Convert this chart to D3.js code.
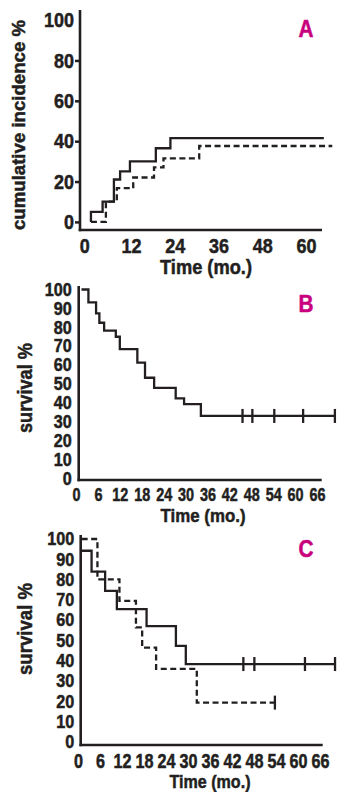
<!DOCTYPE html>
<html>
<head>
<meta charset="utf-8">
<script src="https://cdn.jsdelivr.net/npm/d3@7"></script>
<style>
  html, body { margin: 0; padding: 0; background: #fff; }
  svg { display: block; }
  text { font-family: "Liberation Sans", Arial, "DejaVu Sans", sans-serif; font-weight: bold; fill: #231f20; stroke: #231f20; stroke-width: 0.5px; }
</style>
</head>
<body>
<svg id="chart" width="337" height="792"></svg>
<script>
// ---------- Data ----------
// Panel A: cumulative incidence (%)
const aSolidTimes  = [1, 1, 4.2, 7.3, 9.0, 11.7, 18.8, 22.8, 64.9];
const aSolidValues = [0, 5, 10, 21, 25, 30, 36.5, 41.5, 41.5];
const aDashTimes   = [1, 5.1, 8.1, 12.6, 18.3, 20.9, 30.7, 67.2];
const aDashValues  = [0, 10, 16.7, 22, 27, 31.5, 37.6, 37.6];
const aXTicks = [0, 12, 24, 36, 48, 60];
const aYTicks = [0, 20, 40, 60, 80, 100];

// Panel B: survival (%)
const bTimes  = [1.5, 3.4, 5.5, 6.4, 7.7, 10.9, 12.0, 16.8, 18.9, 21.4, 27.3, 29.6, 34.2, 70.9];
const bValues = [100, 93.2, 87.4, 82.4, 78.2, 75.0, 68.4, 61.3, 53.3, 48.0, 42.4, 39.4, 33.1, 33.1];
const bCensorTimes = [45.6, 48.3, 54.3, 62.2, 70.9];
const bCensorValue = 33.1;

// Panel C: survival (%)
const cSolidTimes  = [1, 3.7, 7.4, 10.6, 18.7, 26.7, 29.4, 70.1];
const cSolidValues = [94.2, 83.9, 74.4, 65.5, 57.1, 47.4, 38.4, 38.4];
const cSolidCensorTimes = [45.1, 48.1, 61.9, 70.1];
const cSolidCensorValue = 38.4;
const cDashTimes   = [1, 5.3, 11.3, 15.8, 17.5, 21.3, 32.4, 53.7];
const cDashValues  = [100, 80.1, 69.5, 56.5, 46.5, 36.0, 19.4, 19.4];
const cDashCensorTimes = [53.7];
const cDashCensorValue = 19.4;

const survXTicks = [0, 6, 12, 18, 24, 30, 36, 42, 48, 54, 60, 66];
const survYTicks = [0, 10, 20, 30, 40, 50, 60, 70, 80, 90, 100];

const ink = "#231f20";
const magenta = "#c8007e";

const svg = d3.select("#chart");

function zip(ts, vs) { return ts.map((t, i) => ({ t, v: vs[i] })); }

function squeeze(sel, perChar) {
  sel.each(function(d) {
    const s = String(d);
    d3.select(this).attr("textLength", s.length * perChar).attr("lengthAdjust", "spacingAndGlyphs");
  });
}

function drawPanel(o) {
  const g = svg.append("g");
  const x = d3.scaleLinear().domain(o.xDomain).range(o.xRange);
  const y = d3.scaleLinear().domain([0, 100]).range(o.yRange);

  // y axis
  const ya = g.append("g").attr("transform", `translate(${o.axisX},0)`)
    .call(d3.axisLeft(y).tickValues(o.yTicks).tickSize(o.yTickSize).tickPadding(o.yPad).tickSizeOuter(0));
  ya.select(".domain").remove();
  ya.attr("font-family", null);
  ya.selectAll(".tick line").attr("stroke", ink).attr("stroke-width", 2.5);
  if (o.noTop) ya.selectAll(".tick").filter(d => d === 100).select("line").remove();
  const yt = ya.selectAll(".tick text").attr("font-size", o.yFont).attr("fill", ink);
  squeeze(yt, o.yDigit);

  // x axis
  const xa = g.append("g").attr("transform", `translate(0,${o.axisY})`)
    .call(d3.axisBottom(x).tickValues(o.xTicks).tickSize(0).tickPadding(o.xPad).tickSizeOuter(0));
  xa.select(".domain").remove();
  xa.attr("font-family", null);
  const xt = xa.selectAll(".tick text").attr("font-size", o.xFont).attr("fill", ink).attr("dy", "0.71em");
  squeeze(xt, o.xDigit);
  if (o.zeroShift) xa.selectAll(".tick").filter(d => d === 0).select("text").attr("dx", o.zeroShift);

  // axis lines
  g.append("line").attr("x1", o.axisX).attr("x2", o.axisX).attr("y1", o.axisTop).attr("y2", o.axisY + 1.25)
    .attr("stroke", ink).attr("stroke-width", 2.6);
  g.append("line").attr("x1", o.axisX - 1.25).attr("x2", o.axisRight).attr("y1", o.axisY).attr("y2", o.axisY)
    .attr("stroke", ink).attr("stroke-width", 2.6);

  // curves
  const line = d3.line().x(d => x(d.t)).y(d => y(d.v)).curve(d3.curveStepAfter);
  o.series.forEach(s => {
    g.append("path").datum(zip(s.times, s.values)).attr("d", line)
      .attr("fill", "none").attr("stroke", ink).attr("stroke-width", 2.3)
      .attr("stroke-dasharray", s.dashed ? "6,3.5" : null);
    if (s.censor) {
      g.selectAll(null).data(s.censor).enter().append("line")
        .attr("x1", d => x(d)).attr("x2", d => x(d))
        .attr("y1", y(s.censorValue) - 7).attr("y2", y(s.censorValue) + 7)
        .attr("stroke", ink).attr("stroke-width", 2.3);
    }
  });

  // titles
  g.append("text").attr("x", o.xTitle[0]).attr("y", o.xTitle[1]).attr("text-anchor", "middle")
    .attr("font-size", o.xTitle[3]).attr("textLength", o.xTitle[2]).attr("lengthAdjust", "spacingAndGlyphs")
    .text("Time (mo.)");
  g.append("text").attr("transform", `translate(${o.yTitle[0]},${o.yTitle[1]}) rotate(-90)`)
    .attr("text-anchor", "middle").attr("font-size", o.yTitle[3])
    .attr("textLength", o.yTitle[2]).attr("lengthAdjust", "spacingAndGlyphs")
    .text(o.yLabel);
  g.append("text").attr("x", 306).attr("y", o.letterY).attr("text-anchor", "middle")
    .attr("font-size", 24).attr("textLength", 15).attr("lengthAdjust", "spacingAndGlyphs")
    .style("fill", magenta).style("stroke", magenta).text(o.letter);
}

drawPanel({
  xDomain: [0, 60], xRange: [87.3, 306], yRange: [221.9, 20.1],
  axisX: 80, axisY: 230, axisTop: 10, axisRight: 322,
  yTicks: aYTicks, xTicks: aXTicks, yTickSize: 5, yPad: 1, noTop: true, yFont: 21, yDigit: 10,
  xFont: 21, xDigit: 10, xPad: 8, zeroShift: -3,
  series: [
    { times: aSolidTimes, values: aSolidValues, dashed: false },
    { times: aDashTimes, values: aDashValues, dashed: true }
  ],
  xTitle: [206, 274, 92, 20], yTitle: [25, 125, 210, 18], yLabel: "cumulative incidence %",
  letter: "A", letterY: 37
});

drawPanel({
  xDomain: [0, 66], xRange: [76, 317], yRange: [478.5, 289.5],
  axisX: 78.7, axisY: 480, axisTop: 286, axisRight: 321.7,
  yTicks: survYTicks, xTicks: survXTicks, yTickSize: 0, yPad: 7, noTop: false, yFont: 18, yDigit: 9,
  xFont: 17.5, xDigit: 8, xPad: 9, zeroShift: 0,
  series: [
    { times: bTimes, values: bValues, dashed: false, censor: bCensorTimes, censorValue: bCensorValue }
  ],
  xTitle: [203, 522, 85, 19], yTitle: [32, 388, 90, 20], yLabel: "survival %",
  letter: "B", letterY: 312
});

drawPanel({
  xDomain: [0, 66], xRange: [78, 320], yRange: [742, 539],
  axisX: 80.7, axisY: 745, axisTop: 535, axisRight: 322.7,
  yTicks: survYTicks, xTicks: survXTicks, yTickSize: 0, yPad: 6.5, noTop: false, yFont: 18, yDigit: 9,
  xFont: 19.5, xDigit: 9, xPad: 9, zeroShift: 0,
  series: [
    { times: cSolidTimes, values: cSolidValues, dashed: false, censor: cSolidCensorTimes, censorValue: cSolidCensorValue },
    { times: cDashTimes, values: cDashValues, dashed: true, censor: cDashCensorTimes, censorValue: cDashCensorValue }
  ],
  xTitle: [210, 788, 81, 19], yTitle: [32, 629, 92, 20], yLabel: "survival %",
  letter: "C", letterY: 557
});
</script>
</body>
</html>
